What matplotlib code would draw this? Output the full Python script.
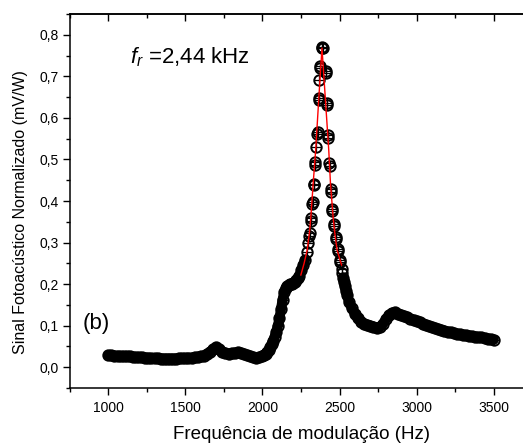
import matplotlib
matplotlib.use("Agg")
import matplotlib.pyplot as plt
from matplotlib.ticker import MultipleLocator, FuncFormatter

plt.rcParams['font.family'] = ['Liberation Sans', 'DejaVu Sans']
plt.rcParams['mathtext.fontset'] = 'custom'
plt.rcParams['mathtext.rm'] = 'Liberation Sans'
plt.rcParams['mathtext.it'] = 'Liberation Sans:italic'

# lower tail (1000-2240 Hz)
freq_low = [1000, 1020, 1040, 1060, 1080, 1100, 1120, 1140, 1160, 1180,
            1200, 1220, 1240, 1260, 1280, 1300, 1320, 1340, 1360, 1380,
            1400, 1420, 1440, 1460, 1480, 1500, 1520, 1540, 1560, 1580,
            1600, 1620, 1640, 1660, 1680, 1700, 1720, 1740, 1760, 1780,
            1800, 1820, 1840, 1860, 1880, 1900, 1920, 1940, 1960, 1980,
            2000, 2010, 2020, 2030, 2040, 2050, 2060, 2070, 2080, 2090,
            2100, 2110, 2120, 2130, 2140, 2150, 2160, 2170, 2180, 2190,
            2200, 2210, 2220, 2230, 2240]
sig_low = [0.029, 0.029, 0.028, 0.028, 0.027, 0.027, 0.026, 0.026, 0.025, 0.025,
           0.024, 0.024, 0.023, 0.023, 0.022, 0.022, 0.022, 0.021, 0.021, 0.021,
           0.021, 0.021, 0.021, 0.022, 0.022, 0.022, 0.023, 0.023, 0.024, 0.025,
           0.026, 0.028, 0.032, 0.037, 0.043, 0.048, 0.043, 0.037, 0.034, 0.033,
           0.034, 0.035, 0.036, 0.035, 0.032, 0.029, 0.026, 0.024, 0.023, 0.024,
           0.027, 0.030, 0.033, 0.037, 0.042, 0.048, 0.056, 0.064, 0.074, 0.086,
           0.100, 0.118, 0.140, 0.162, 0.180, 0.190, 0.195, 0.198, 0.200, 0.201,
           0.202, 0.205, 0.210, 0.215, 0.220]

# resonance peak (measured points, several repeats)
freq_peak = [2253, 2264, 2276, 2286, 2296, 2302, 2307, 2314, 2316, 2324,
             2326, 2333, 2335, 2341, 2343, 2350, 2356, 2358, 2365, 2367,
             2368, 2371, 2374, 2385, 2389, 2393, 2409, 2412, 2416, 2418,
             2424, 2426, 2434, 2436, 2443, 2445, 2452, 2454, 2464, 2466,
             2476, 2478, 2487, 2490, 2502, 2505, 2513, 2518, 2523, 2528,
             2534, 2540, 2549]
sig_peak = [0.234, 0.246, 0.258, 0.278, 0.298, 0.315, 0.322, 0.353, 0.358, 0.393,
            0.397, 0.438, 0.442, 0.486, 0.494, 0.530, 0.562, 0.566, 0.643, 0.648,
            0.692, 0.720, 0.724, 0.768, 0.770, 0.768, 0.712, 0.708, 0.636, 0.632,
            0.558, 0.552, 0.492, 0.485, 0.428, 0.422, 0.380, 0.376, 0.344, 0.340,
            0.313, 0.309, 0.284, 0.280, 0.258, 0.254, 0.236, 0.226, 0.214, 0.205,
            0.195, 0.184, 0.174]

# upper tail (2560-3500 Hz)
freq_high = [2560, 2580, 2600, 2620, 2640, 2660, 2680, 2700, 2720, 2740,
             2760, 2780, 2800, 2820, 2840, 2860, 2880, 2900, 2920, 2940,
             2960, 2980, 3000, 3020, 3040, 3060, 3080, 3100, 3120, 3140,
             3160, 3180, 3200, 3220, 3240, 3260, 3280, 3300, 3320, 3340,
             3360, 3380, 3400, 3420, 3440, 3460, 3480, 3500]
sig_high = [0.158, 0.142, 0.128, 0.118, 0.110, 0.105, 0.102, 0.100, 0.098, 0.095,
            0.097, 0.104, 0.115, 0.125, 0.131, 0.132, 0.129, 0.126, 0.123, 0.120,
            0.117, 0.114, 0.111, 0.108, 0.105, 0.102, 0.099, 0.096, 0.094, 0.092,
            0.090, 0.088, 0.086, 0.084, 0.082, 0.080, 0.079, 0.078, 0.077, 0.076,
            0.075, 0.074, 0.073, 0.072, 0.070, 0.069, 0.068, 0.066]

# Lorentzian fit curve (red)
fit_f = [2249, 2270, 2290, 2305, 2314, 2329, 2345, 2365, 2386, 2410,
         2430, 2441, 2458, 2470, 2484, 2500, 2513]
fit_v = [0.222, 0.250, 0.282, 0.325, 0.362, 0.443, 0.522, 0.645, 0.768, 0.634,
         0.522, 0.443, 0.362, 0.320, 0.282, 0.262, 0.246]

fig = plt.figure(figsize=(5.23, 4.45), dpi=100)
ax = fig.add_axes([0.1333, 0.128, 0.8845, 0.8405])

# dense scatter in the tails looks like a solid band
ax.plot(freq_low + freq_peak[:3], sig_low + sig_peak[:3], '-', color='k', lw=7.2,
        solid_capstyle='round', zorder=2)
ax.plot(freq_peak[-5:] + freq_high, sig_peak[-5:] + sig_high, '-', color='k', lw=7.2,
        solid_capstyle='round', zorder=2)

all_f = freq_low + freq_peak + freq_high
all_v = sig_low + sig_peak + sig_high
ax.plot(all_f, all_v, 'o', mfc='none', mec='k', ms=7.5, mew=1.4, zorder=3)
ax.plot(all_f, all_v, '+', color='k', ms=7, mew=0.9, zorder=3)
ax.plot(fit_f, fit_v, '-', color='red', lw=1.0, zorder=4)

ax.set_xlim(750, 3750)
ax.set_ylim(-0.05, 0.85)
ax.xaxis.set_major_locator(MultipleLocator(500))
ax.xaxis.set_minor_locator(MultipleLocator(250))
ax.yaxis.set_major_locator(MultipleLocator(0.1))
ax.yaxis.set_minor_locator(MultipleLocator(0.05))
ax.yaxis.set_major_formatter(FuncFormatter(lambda v, p: f"{v:.1f}".replace('.', ',').replace('-0,0', '0,0')))
ax.set_xticks([1000, 1500, 2000, 2500, 3000, 3500])
ax.tick_params(axis='both', which='major', direction='out', length=5, width=1, labelsize=10, pad=3)
ax.tick_params(axis='both', which='minor', direction='out', length=3, width=1)
ax.tick_params(axis='x', which='major', pad=4)
for s in ax.spines.values():
    s.set_linewidth(1.1)
ax.spines['right'].set_visible(False)

top = ax.secondary_xaxis('top')
top.xaxis.set_major_locator(MultipleLocator(500))
top.xaxis.set_minor_locator(MultipleLocator(250))
top.tick_params(axis='x', which='major', direction='in', length=5, width=1, labeltop=False)
top.tick_params(axis='x', which='minor', direction='in', length=3, width=1)
top.spines['top'].set_linewidth(1.1)

ax.set_xlabel("Frequência de modulação (Hz)", fontsize=13.5, labelpad=8)
ax.set_ylabel("Sinal Fotoacústico Normalizado (mV/W)", fontsize=11.5)
ax.yaxis.set_label_coords(-0.09, 0.47)

ax.text(1141, 0.746, r"$f_r$ =2,44 kHz", fontsize=16, va='center', ha='left')
ax.text(836, 0.105, "(b)", fontsize=16, va='center', ha='left')

fig.savefig("out.png", dpi=100)
